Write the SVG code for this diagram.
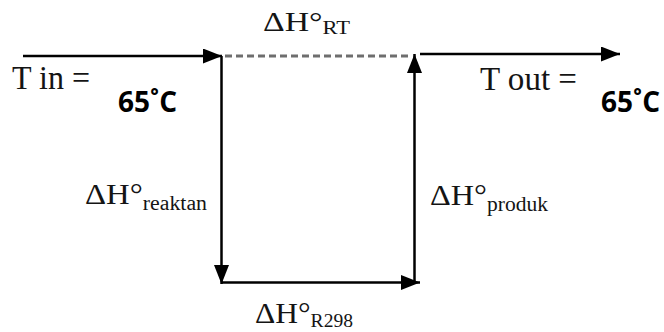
<svg xmlns="http://www.w3.org/2000/svg" width="664" height="332" viewBox="0 0 664 332">
<style>
.ser{font-family:"Liberation Serif","Times New Roman",serif;fill:#141414}
.bold{font-family:"Open Sans","Liberation Sans",Arial,sans-serif;font-weight:bold;fill:#000}
.ln{stroke:#000;stroke-width:2.5;fill:none}
.dash{stroke:#6e6e6e;stroke-width:3;stroke-dasharray:7 4;fill:none}
</style>
<defs>
<marker id="ah" markerUnits="userSpaceOnUse" markerWidth="19" markerHeight="15" refX="19" refY="7.5" orient="auto">
<path d="M0,0 L19,7.5 L0,15 z" fill="#000"/>
</marker>
</defs>
<rect width="664" height="332" fill="#fff"/>
<g id="connectors">
<line class="ln" x1="23" y1="56" x2="222" y2="56" marker-end="url(#ah)"/>
<line class="dash" x1="225" y1="56" x2="412" y2="56"/>
<line class="ln" x1="420" y1="54" x2="620" y2="54" marker-end="url(#ah)"/>
<line class="ln" x1="221.5" y1="56" x2="221.5" y2="284" marker-end="url(#ah)"/>
<line class="ln" x1="221" y1="282.5" x2="420" y2="282.5" marker-end="url(#ah)"/>
<line class="ln" x1="414.5" y1="283" x2="414.5" y2="54" marker-end="url(#ah)"/>
</g>
<g id="tin"><text class="ser" x="12" y="89" font-size="33" textLength="78" lengthAdjust="spacingAndGlyphs">T in =</text></g>
<g id="tin-val"><text class="bold" x="118" y="112" font-size="29" textLength="59" lengthAdjust="spacingAndGlyphs">65˚C</text></g>
<g id="tout"><text class="ser" x="480" y="90" font-size="33" textLength="97" lengthAdjust="spacingAndGlyphs">T out =</text></g>
<g id="tout-val"><text class="bold" x="601" y="112" font-size="29" textLength="59" lengthAdjust="spacingAndGlyphs">65˚C</text></g>
<g id="dh-rt"><text class="ser" x="263" y="31" font-size="27" textLength="87" lengthAdjust="spacingAndGlyphs">ΔH°<tspan font-size="18" dy="3">RT</tspan></text></g>
<g id="dh-reaktan"><text class="ser" x="85" y="204" font-size="30" textLength="122" lengthAdjust="spacingAndGlyphs">ΔH°<tspan font-size="20" dy="6">reaktan</tspan></text></g>
<g id="dh-produk"><text class="ser" x="430" y="205" font-size="30" textLength="118" lengthAdjust="spacingAndGlyphs">ΔH°<tspan font-size="20" dy="6">produk</tspan></text></g>
<g id="dh-r298"><text class="ser" x="255" y="323" font-size="29" textLength="98" lengthAdjust="spacingAndGlyphs">ΔH°<tspan font-size="18" dy="4">R298</tspan></text></g>
</svg>
